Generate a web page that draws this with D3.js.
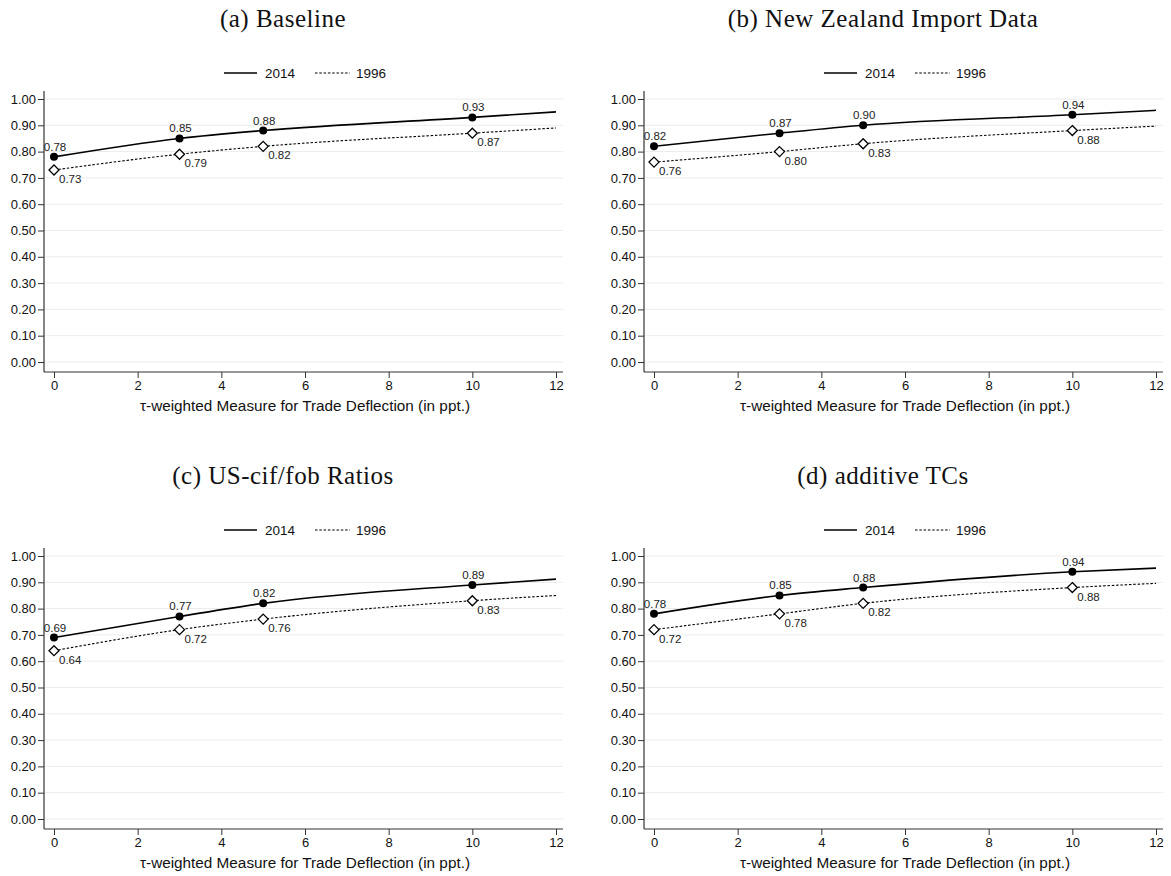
<!DOCTYPE html>
<html>
<head>
<meta charset="utf-8">
<script src="https://cdn.jsdelivr.net/npm/d3@7"></script>
<style>
  body { margin: 0; background: #fff; }
  svg { display: block; }
</style>
</head>
<body>
<svg id="chart" width="1171" height="876"></svg>
<script>
// Panel titles
const titles = ["(a)  Baseline", "(b)  New Zealand Import Data", "(c)  US-cif/fob Ratios", "(d)  additive TCs"];

// Trade deflection levels (ppt.) at which the curves are evaluated
const deflection = [0, 3, 5, 10, 12];
// Which of those evaluations carry a marker and a value label
const marked = [true, true, true, true, false];

// 2014 series, one row per panel
const series2014 = [
  [0.78, 0.85, 0.88, 0.93, 0.951],
  [0.82, 0.87, 0.90, 0.94, 0.957],
  [0.69, 0.77, 0.82, 0.89, 0.912],
  [0.78, 0.85, 0.88, 0.94, 0.954]
];
// 1996 series, one row per panel
const series1996 = [
  [0.73, 0.79, 0.82, 0.87, 0.890],
  [0.76, 0.80, 0.83, 0.88, 0.897],
  [0.64, 0.72, 0.76, 0.83, 0.850],
  [0.72, 0.78, 0.82, 0.88, 0.896]
];

// Axis ticks
const xTicks = [0, 2, 4, 6, 8, 10, 12];
const yTicks = [0, 0.1, 0.2, 0.3, 0.4, 0.5, 0.6, 0.7, 0.8, 0.9, 1.0];
const legendLabels = ["2014", "1996"];
const xTitle = "\u03C4-weighted Measure for Trade Deflection (in ppt.)";

const svg = d3.select("#chart");
const sans = "Liberation Sans, Arial, sans-serif";

// Panel offsets in the 2x2 grid
const offsets = [[0, 0], [600, 0], [0, 457], [600, 457]];

const x = d3.scaleLinear().domain([0, 12]).range([54, 556]);
const y = d3.scaleLinear().domain([0, 1]).range([362, 99]);

const line = d3.line()
  .x(d => x(d[0]))
  .y(d => y(d[1]))
  .curve(d3.curveMonotoneX);

titles.forEach((title, i) => {
  const g = svg.append("g").attr("transform", `translate(${offsets[i][0]},${offsets[i][1]})`);

  // Title
  g.append("text")
    .attr("x", 283).attr("y", 27)
    .attr("text-anchor", "middle")
    .style("font-family", "Liberation Serif, serif")
    .style("font-size", "25px")
    .style("letter-spacing", "0.5px")
    .attr("fill", "#111")
    .text(title);

  // Legend
  const lg = g.append("g").attr("transform", "translate(0,73)");
  lg.append("line").attr("x1", 224).attr("x2", 257).attr("y1", 0).attr("y2", 0)
    .attr("stroke", "#000").attr("stroke-width", 1.5);
  lg.append("text").attr("x", 265).attr("y", 5)
    .style("font-family", sans).style("font-size", "13.5px").attr("fill", "#111")
    .text(legendLabels[0]);
  lg.append("line").attr("x1", 315).attr("x2", 350).attr("y1", 0).attr("y2", 0)
    .attr("stroke", "#000").attr("stroke-width", 1.1).attr("stroke-dasharray", "2.5,1.8");
  lg.append("text").attr("x", 356).attr("y", 5)
    .style("font-family", sans).style("font-size", "13.5px").attr("fill", "#111")
    .text(legendLabels[1]);

  // Gridlines
  g.append("g").selectAll("line").data(yTicks).join("line")
    .attr("x1", 45).attr("x2", 563)
    .attr("y1", d => y(d)).attr("y2", d => y(d))
    .attr("stroke", "#ececec").attr("stroke-width", 1);

  // Y axis
  const yAxis = g.append("g").attr("transform", "translate(44,0)")
    .call(d3.axisLeft(y).tickValues(yTicks).tickFormat(d3.format(".2f")).tickSize(6).tickSizeOuter(0));
  yAxis.select(".domain").remove();
  yAxis.append("line").attr("x1", 0).attr("x2", 0).attr("y1", 91).attr("y2", 372)
    .attr("stroke", "#333").attr("stroke-width", 1.2);
  yAxis.selectAll(".tick line").attr("stroke", "#333");
  yAxis.selectAll(".tick text").attr("x", -8)
    .style("font-family", sans).style("font-size", "13px").attr("fill", "#111");

  // X axis
  const xAxis = g.append("g").attr("transform", "translate(0,372)")
    .call(d3.axisBottom(x).tickValues(xTicks).tickFormat(d3.format("d")).tickSize(6).tickSizeOuter(0));
  xAxis.select(".domain").remove();
  xAxis.append("line").attr("x1", 44).attr("x2", 563).attr("y1", 0).attr("y2", 0)
    .attr("stroke", "#333").attr("stroke-width", 1.2);
  xAxis.selectAll(".tick line").attr("stroke", "#333");
  xAxis.selectAll(".tick text").attr("y", 9)
    .style("font-family", sans).style("font-size", "13px").attr("fill", "#111");

  g.append("text")
    .attr("x", 305).attr("y", 411)
    .attr("text-anchor", "middle")
    .style("font-family", sans).style("font-size", "15.3px").attr("fill", "#111")
    .text(xTitle);

  const d14 = deflection.map((v, k) => [v, series2014[i][k]]);
  const d96 = deflection.map((v, k) => [v, series1996[i][k]]);

  // Curves
  g.append("path").datum(d96).attr("d", line)
    .attr("fill", "none").attr("stroke", "#000").attr("stroke-width", 1.1)
    .attr("stroke-dasharray", "2.5,1.8");
  g.append("path").datum(d14).attr("d", line)
    .attr("fill", "none").attr("stroke", "#000").attr("stroke-width", 1.6);

  const pts14 = d14.filter((_, k) => marked[k]);
  const pts96 = d96.filter((_, k) => marked[k]);

  // 1996 markers: hollow diamonds
  g.append("g").selectAll("path").data(pts96).join("path")
    .attr("transform", d => `translate(${x(d[0])},${y(d[1])})`)
    .attr("d", "M0,-5L5,0L0,5L-5,0Z")
    .attr("fill", "#fff").attr("stroke", "#000").attr("stroke-width", 1.3);

  // 2014 markers: filled circles
  g.append("g").selectAll("circle").data(pts14).join("circle")
    .attr("cx", d => x(d[0])).attr("cy", d => y(d[1])).attr("r", 4)
    .attr("fill", "#000");

  // Value labels
  g.append("g").selectAll("text").data(pts14).join("text")
    .attr("x", d => x(d[0]) + 1).attr("y", d => y(d[1]) - 6)
    .attr("text-anchor", "middle")
    .style("font-family", sans).style("font-size", "11.5px").attr("fill", "#222")
    .text(d => d3.format(".2f")(d[1]));
  g.append("g").selectAll("text").data(pts96).join("text")
    .attr("x", d => x(d[0]) + 5).attr("y", d => y(d[1]) + 13)
    .style("font-family", sans).style("font-size", "11.5px").attr("fill", "#222")
    .text(d => d3.format(".2f")(d[1]));
});
</script>
</body>
</html>
